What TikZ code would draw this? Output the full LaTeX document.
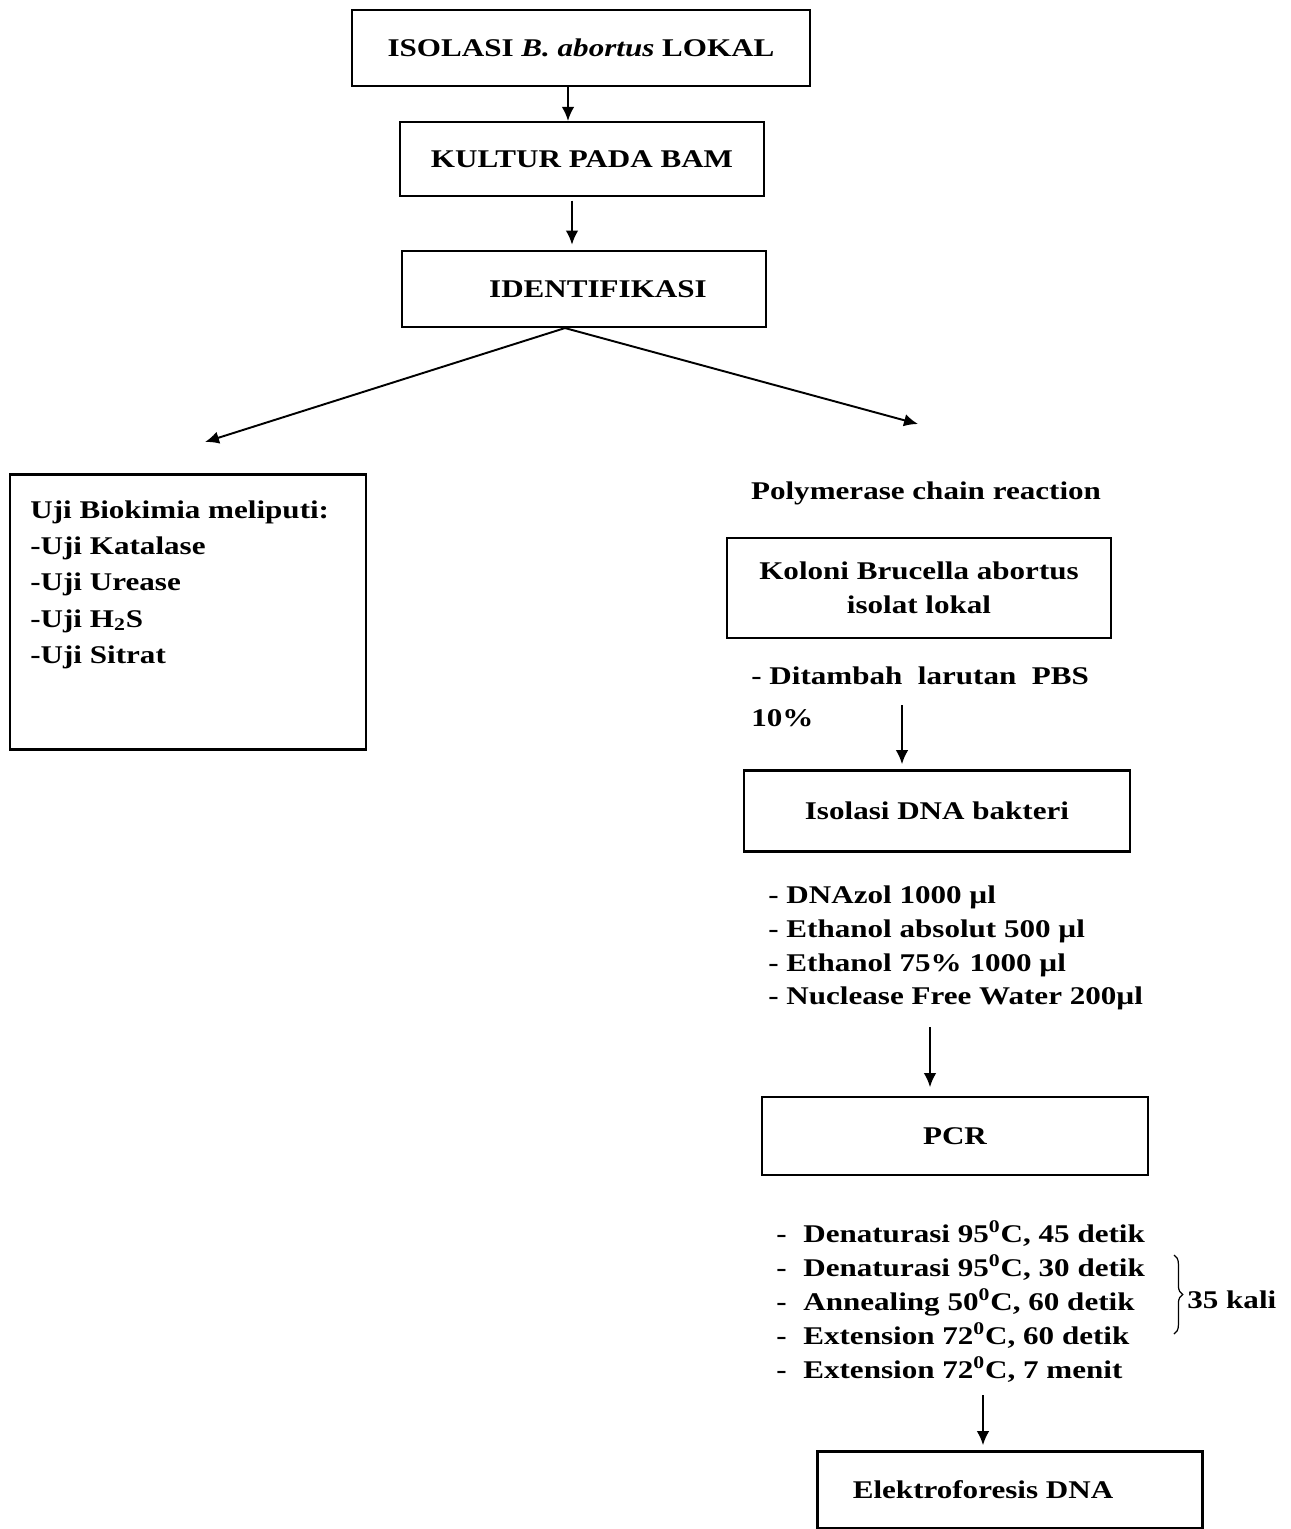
\documentclass[tikz,border=0pt]{standalone}
\usepackage{fontspec}
\setmainfont{Liberation Serif}[FakeStretch=1.22]
\usetikzlibrary{arrows.meta,decorations.pathreplacing}

\tikzset{
  kotak/.style={draw,line width=1.2pt,inner sep=0pt},
  panah/.style={-{Latex[length=2.8mm,width=2.5mm]},line width=1.1pt},
  teks/.style={font=\fontsize{14.5}{18}\selectfont\bfseries,inner sep=0pt}
}
\newcommand{\langkah}[1]{\makebox[0.54cm][l]{-}#1}

\begin{document}
\begin{tikzpicture}[x=0.02cm,y=-0.02cm,every node/.style={teks}]
\useasboundingbox (0,0) rectangle (1291,1529);

% alur utama
\node[kotak,minimum width=9.16cm,minimum height=1.52cm] (isolasi) at (581,48) {ISOLASI \textit{B. abortus} LOKAL};
\node[kotak,minimum width=7.28cm,minimum height=1.48cm] (kultur) at (582,159) {KULTUR PADA BAM};
\node[kotak,minimum width=7.28cm,minimum height=1.52cm] (ident) at (584,289) {\hspace*{0.56cm}IDENTIFIKASI};

\draw[panah] ([xshift=-0.26cm]isolasi.south) -- ([xshift=-0.26cm]isolasi.south |- kultur.north);
\draw[panah,shorten <=2pt,shorten >=3pt] ([xshift=-0.2cm]kultur.south) -- ([xshift=-0.2cm]kultur.south |- ident.north);

\coordinate (kiri) at (205,442);
\coordinate (kanan) at (918,424);
\draw[panah] ([xshift=-0.38cm]ident.south) -- (kiri);
\draw[panah] ([xshift=-0.38cm]ident.south) -- (kanan);

% uji biokimia
\node[kotak,minimum width=7.12cm,minimum height=5.5cm] (biokimia) at (188,612) {};
\foreach \y/\l [count=\i] in {518/{Uji Biokimia meliputi:},554/{-Uji Katalase},590/{-Uji Urease},627/{-Uji H\textsubscript{2}S},663/{-Uji Sitrat}}
  \node[anchor=base west] (uji\i) at (30,\y) {\l};

% PCR
\node[anchor=base] (judulpcr) at (926,499) {Polymerase chain reaction};
\node[kotak,minimum width=7.68cm,minimum height=2cm,align=center,font=\fontsize{14.5}{19.3}\selectfont\bfseries] (koloni) at (919,588) {Koloni Brucella abortus\\isolat lokal};
\node[anchor=base west] (pbs) at (751,684) {- Ditambah \ larutan \ PBS};
\node[anchor=base west] (persen) at (751,726) {10\%};

\node[kotak,minimum width=7.72cm,minimum height=1.62cm] (isodna) at (937,811) {Isolasi DNA bakteri};
\foreach \y/\l [count=\i] in {903/{DNAzol 1000 µl},937/{Ethanol absolut 500 µl},971/{Ethanol 75\% 1000 µl},1004/{Nuclease Free Water 200µl}}
  \node[anchor=base west] (bahan\i) at (768,\y) {- \l};

\node[kotak,minimum width=7.72cm,minimum height=1.56cm] (pcr) at (955,1136) {PCR};
\foreach \y/\l [count=\i] in {1242/{Denaturasi 95\textsuperscript{0}C, 45 detik},1276/{Denaturasi 95\textsuperscript{0}C, 30 detik},1310/{Annealing 50\textsuperscript{0}C, 60 detik},1344/{Extension 72\textsuperscript{0}C, 60 detik},1378/{Extension 72\textsuperscript{0}C, 7 menit}}
  \node[anchor=base west] (siklus\i) at (776,\y) {\langkah{\l}};
\draw[line width=0.7pt,decorate,decoration={brace,amplitude=5pt}] (1174,1255) -- (1174,1334);
\node[anchor=base west] (kali) at (1187,1308) {35 kali};

\node[kotak,minimum width=7.7cm,minimum height=1.54cm] (elektro) at (1010,1490) {Elektroforesis DNA\hspace*{1.08cm}};

\coordinate (a1) at (902,705);
\coordinate (a2) at (930,1027);
\coordinate (a3) at (983,1395);
\draw[panah,shorten >=3pt] (a1) -- (a1 |- isodna.north);
\draw[panah,shorten >=5pt] (a2) -- (a2 |- pcr.north);
\draw[panah,shorten >=3pt] (a3) -- (a3 |- elektro.north);

\end{tikzpicture}
\end{document}
